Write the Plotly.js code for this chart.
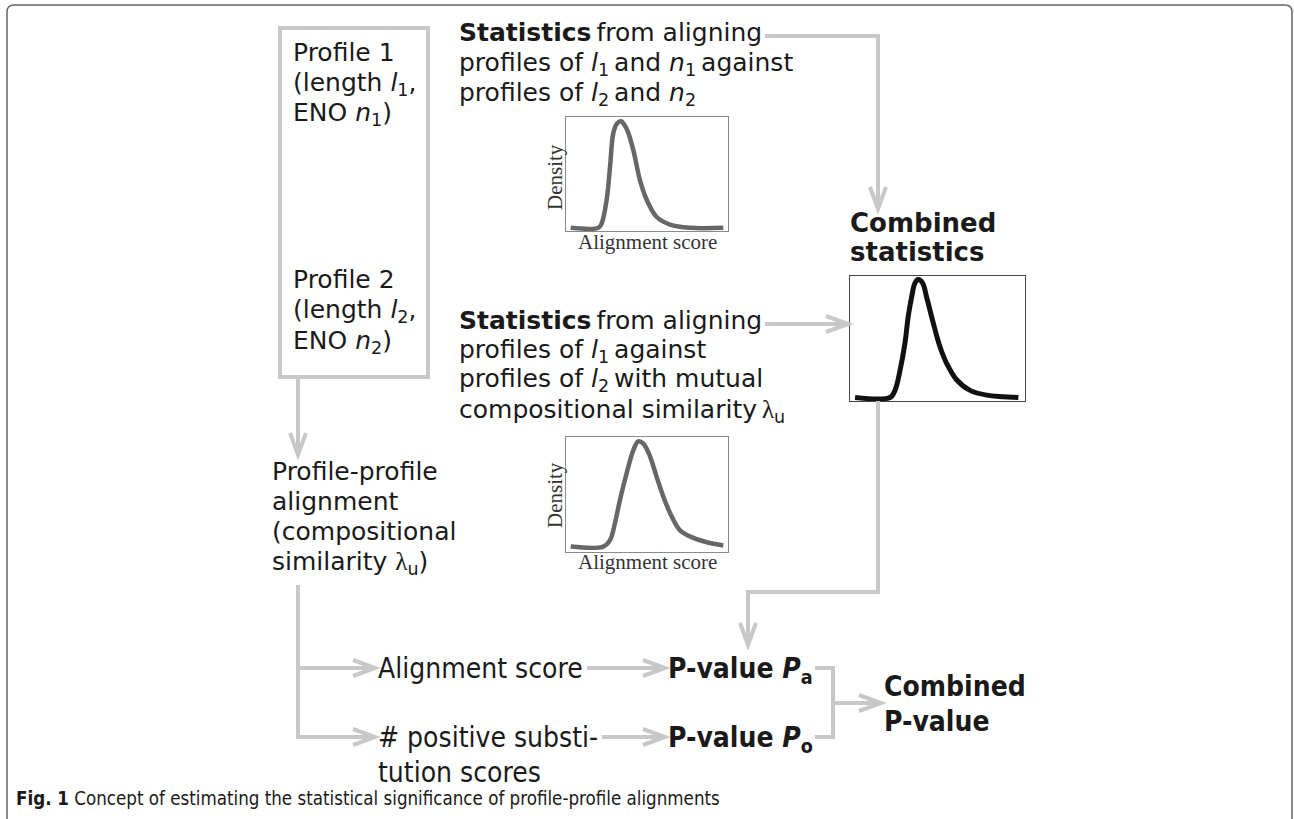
<!DOCTYPE html>
<html>
<head>
<meta charset="utf-8">
<script src="https://cdn.plot.ly/plotly-3.0.1.min.js"></script>
<style>html,body{margin:0;padding:0;background:#fff;}#chart{width:1294px;height:819px;}</style>
</head>
<body>
<div id="chart"></div>
<script>
// ---- data: density curves ----
const score1   = [2.9, 20, 22, 25.1, 27.2, 29.2, 31.5, 34, 36.3, 38.5, 41.6, 45.7, 49.8, 56, 64.2, 76.5, 97.1];
const density1 = [0, 0, 0.04, 0.26, 0.57, 0.88, 0.97, 0.99, 0.95, 0.88, 0.72, 0.44, 0.26, 0.10, 0.03, 0.0, 0.0];

const score2   = [2.9, 23, 27.2, 30.2, 33.3, 37.5, 41.6, 44.6, 47.7, 51.9, 56, 60.1, 64.2, 70.4, 78.6, 86.9, 97.1];
const density2 = [0.02, 0.02, 0.08, 0.235, 0.45, 0.70, 0.91, 0.99, 0.97, 0.85, 0.66, 0.48, 0.33, 0.17, 0.10, 0.06, 0.03];

const scoreC   = [2.9, 22.9, 25.7, 28.6, 31.4, 33.3, 35.2, 37.1, 39, 41.5, 43.8, 47.6, 51.4, 55.2, 60.9, 68.6, 78.1, 96.2];
const densityC = [0, 0, 0.06, 0.23, 0.46, 0.69, 0.85, 0.97, 1.0, 0.97, 0.85, 0.63, 0.43, 0.29, 0.15, 0.06, 0.02, 0];

const insetXLabel = 'Alignment score';
const insetYLabel = 'Density';

// ---- layout helpers ----
const W = 1294, H = 819;
const ARROW = '#c8c8c8';
const TXT = '#1a1a1a';
const SANS = 'DejaVu Sans';
const COND = 'DejaVu Sans Condensed, DejaVu Sans';
const SERIF = 'Liberation Serif, Times New Roman, serif';
const LAM = '<span style="font-family:Liberation Serif">λ</span><sub>u</sub>';

function dom(p0, p1, total, flip) {
  return flip ? [1 - p1 / total, 1 - p0 / total] : [p0 / total, p1 / total];
}
function T(text, x, base, size, family, extra) {
  const asc = family === SERIF ? 0.89 : 0.928;
  return Object.assign({
    text: text, x: x, y: base - asc * size, xref: 'x', yref: 'y',
    xanchor: 'left', yanchor: 'top', showarrow: false,
    borderpad: 0, borderwidth: 0,
    font: {family: family, size: size, color: TXT}
  }, extra || {});
}
function line(d, color, width) {
  return {type: 'path', path: d, xref: 'x', yref: 'y',
          line: {color: color || ARROW, width: width || 4}, layer: 'above'};
}
function headDown(x, y) { return line(`M ${x-8} ${y-22} L ${x} ${y} L ${x+8} ${y-22}`); }
function headRight(x, y) { return line(`M ${x-22} ${y-8} L ${x} ${y} L ${x-22} ${y+8}`); }

function inset(xa, ya, box) {
  const common = {showgrid: false, zeroline: false, showticklabels: false, ticks: '',
                  showline: true, mirror: true, linecolor: box.color, linewidth: box.lw, fixedrange: true};
  return [
    Object.assign({}, common, {domain: dom(box.x0, box.x1, W, false), anchor: ya, range: [0, 100]}),
    Object.assign({}, common, {domain: dom(box.y0, box.y1, H, true), anchor: xa, range: [-0.03, 1.03]})
  ];
}
const B1 = {x0: 566, x1: 728, y0: 117, y1: 231, color: '#8a8a8a', lw: 1};
const B2 = {x0: 566, x1: 728, y0: 437, y1: 552, color: '#8a8a8a', lw: 1};
const B3 = {x0: 850, x1: 1025, y0: 276, y1: 401, color: '#444', lw: 1.3};
const [x2, y2] = inset('x2', 'y2', B1);
const [x3, y3] = inset('x3', 'y3', B2);
const [x4, y4] = inset('x4', 'y4', B3);

const traces = [
  {x: score1, y: density1, xaxis: 'x2', yaxis: 'y2', mode: 'lines',
   line: {color: '#676767', width: 4.5, shape: 'spline', smoothing: 1}, hoverinfo: 'skip'},
  {x: score2, y: density2, xaxis: 'x3', yaxis: 'y3', mode: 'lines',
   line: {color: '#676767', width: 4.5, shape: 'spline', smoothing: 1}, hoverinfo: 'skip'},
  {x: scoreC, y: densityC, xaxis: 'x4', yaxis: 'y4', mode: 'lines',
   line: {color: '#111', width: 5, shape: 'spline', smoothing: 1}, hoverinfo: 'skip'}
];

const shapes = [
  // outer frame
  {type: 'path', xref: 'x', yref: 'y', path: 'M 7 830 L 7 12 Q 7 5 14 5 L 1285 5 Q 1292 5 1292 12 L 1292 830',
   line: {color: '#666', width: 1.5}, layer: 'below'},
  // profile box
  {type: 'rect', xref: 'x', yref: 'y', x0: 280, y0: 28, x1: 428, y1: 377, line: {color: ARROW, width: 4}},
  // top statistics -> combined
  line('M 765 36 H 878 V 205'), headDown(878, 209),
  // second statistics -> combined box
  line('M 765 324 H 845'), headRight(848, 324),
  // combined -> P-value Pa
  line('M 878 401 V 592 H 748 V 641'), headDown(748, 645),
  // profile box -> alignment
  line('M 298 377 V 451'), headDown(298, 455),
  // left branch
  line('M 298 585 V 737 H 371'), line('M 298 668 H 371'),
  headRight(375, 668), headRight(375, 737),
  line('M 587 668 H 661'), headRight(665, 668),
  line('M 602 737 H 661'), headRight(665, 737),
  // bracket to combined p-value
  line('M 815 668 H 833 V 737 H 815'), line('M 833 703 H 877'), headRight(881, 703)
];

const S = 25;
const annotations = [
  T('Profile 1', 293, 61, S, SANS),
  T('(length <i>l</i><sub>1</sub>,', 293, 91, S, SANS),
  T('ENO <i>n</i><sub>1</sub>)', 293, 121, S, SANS),
  T('Profile 2', 293, 288, S, SANS),
  T('(length <i>l</i><sub>2</sub>,', 293, 318, S, SANS),
  T('ENO <i>n</i><sub>2</sub>)', 293, 349, S, SANS),

  T('<b>Statistics</b>\u2009from aligning', 459, 41, S, SANS),
  T('profiles of <i>l</i><sub>1</sub>\u2009and <i>n</i><sub>1</sub>\u2009against', 459, 71, S, SANS),
  T('profiles of <i>l</i><sub>2</sub>\u2009and <i>n</i><sub>2</sub>', 459, 101, S, SANS),

  T('<b>Statistics</b>\u2009from aligning', 459, 329, S, SANS),
  T('profiles of <i>l</i><sub>1</sub>\u2009against', 459, 358, S, SANS),
  T('profiles of <i>l</i><sub>2</sub>\u2009with mutual', 459, 387, S, SANS),
  T('compositional similarity\u2009' + LAM, 459, 418, S, SANS),

  T('<b>Combined</b>', 850, 232, 26, SANS),
  T('<b>statistics</b>', 850, 261, 26, SANS),

  T('Profile-profile', 272, 480, S, SANS),
  T('alignment', 272, 510, S, SANS),
  T('(compositional', 272, 540, S, SANS),
  T('similarity ' + LAM + ')', 272, 570, S, SANS),

  T('Alignment score', 378, 678, 28, COND),
  T('# positive substi-', 378, 747, 28, COND),
  T('tution scores', 378, 782, 28, COND),
  T('<b>P-value <i>P</i><sub>a</sub></b>', 668, 678, 28, COND),
  T('<b>P-value <i>P</i><sub>o</sub></b>', 668, 747, 28, COND),
  T('<b>Combined</b>', 884, 696, 28, COND),
  T('<b>P-value</b>', 884, 731, 28, COND),

  T('<b>Fig. 1</b> Concept of estimating the statistical significance of profile-profile alignments', 16, 805, 18.6, COND),

  // inset axis labels
  {text: insetYLabel, x: 555, y: 177, xref: 'x', yref: 'y', textangle: -90, showarrow: false,
   xanchor: 'center', yanchor: 'middle', font: {family: SERIF, size: 21, color: '#333'}},
  {text: insetXLabel, x: 647, y: 242, xref: 'x', yref: 'y', showarrow: false,
   xanchor: 'center', yanchor: 'middle', font: {family: SERIF, size: 21, color: '#333'}},
  {text: insetYLabel, x: 555, y: 495, xref: 'x', yref: 'y', textangle: -90, showarrow: false,
   xanchor: 'center', yanchor: 'middle', font: {family: SERIF, size: 21, color: '#333'}},
  {text: insetXLabel, x: 647, y: 562, xref: 'x', yref: 'y', showarrow: false,
   xanchor: 'center', yanchor: 'middle', font: {family: SERIF, size: 21, color: '#333'}}
];

const layout = {
  width: W, height: H, margin: {l: 0, r: 0, t: 0, b: 0},
  paper_bgcolor: '#fff', plot_bgcolor: 'rgba(0,0,0,0)', showlegend: false,
  xaxis: {range: [0, W], visible: false, domain: [0, 1], fixedrange: true},
  yaxis: {range: [H, 0], visible: false, domain: [0, 1], fixedrange: true},
  xaxis2: x2, yaxis2: y2, xaxis3: x3, yaxis3: y3, xaxis4: x4, yaxis4: y4,
  shapes: shapes, annotations: annotations
};

Plotly.newPlot('chart', traces, layout, {staticPlot: true, displayModeBar: false});
</script>
</body>
</html>
